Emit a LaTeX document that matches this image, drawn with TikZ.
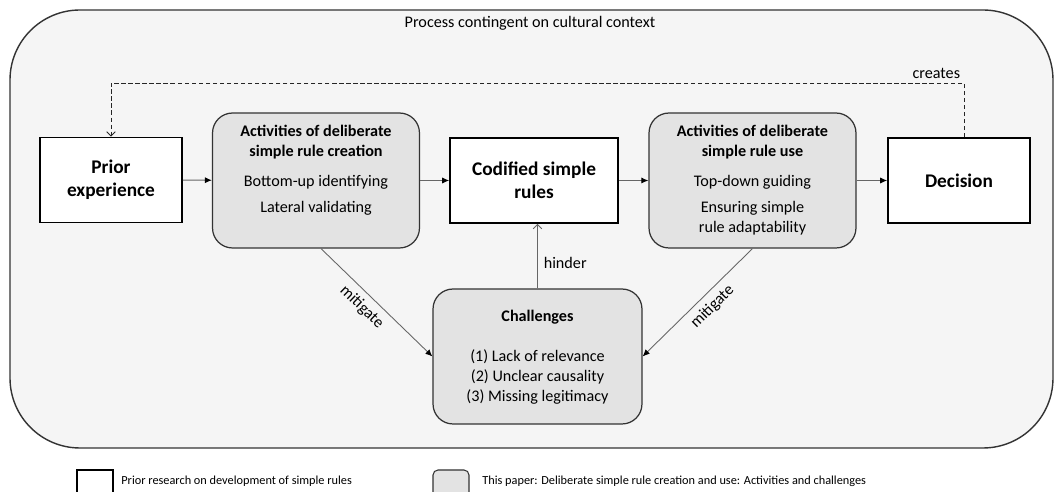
\documentclass[tikz,border=0pt]{standalone}
\usepackage{fontspec}
\setmainfont{Carlito}
\usetikzlibrary{arrows.meta,positioning}
\begin{document}
\begin{tikzpicture}[x=0.02cm,y=-0.02cm,
  priorbox/.style={draw,line width=0.9pt,fill=white,align=center,
    font=\fontsize{11}{13}\selectfont\bfseries,minimum width=2.84cm,minimum height=1.7cm},
  paperbox/.style={draw=black!80,line width=0.7pt,fill=black!11,rounded corners=0.4cm,
    minimum width=4.14cm,minimum height=2.7cm},
  boxtext/.style={align=center,inner sep=0pt,font=\fontsize{9.2}{11.4}\selectfont},
  flow/.style={draw=black!60,line width=0.6pt,-{Latex[length=4pt,width=3.5pt,color=black]}},
  hint/.style={draw=black!60,line width=0.5pt,-{Straight Barb[length=2.5pt,width=5pt]}},
  lbl/.style={font=\fontsize{9.2}{11}\selectfont}]
\useasboundingbox (0,0) rectangle (1059,492);
\clip (0,0) rectangle (1059,492);

% context
\draw[fill=black!4,draw=black!80,line width=0.8pt,rounded corners=1.4cm] (10,10) rectangle (1053,448);
\node[lbl] (context) at (530,23) {Process contingent on cultural context};

% main row
\node[priorbox] (prior) at (111,180) {Prior\\experience};
\node[paperbox] (create) at (316,180.5) {};
\node[boxtext,anchor=base] (createtext) at (316,213) {\textbf{Activities of deliberate}\\\textbf{simple rule creation}\\[0.2cm]Bottom-up identifying\\[0.12cm]Lateral validating};
\node[priorbox,minimum width=3.36cm] (codified) at (534,180.5) {Codified simple\\rules};
\node[paperbox] (use) at (752.5,180.5) {};
\node[boxtext,anchor=base] (usetext) at (752.5,233) {\textbf{Activities of deliberate}\\\textbf{simple rule use}\\[0.2cm]Top-down guiding\\[0.12cm]Ensuring simple\\rule adaptability};
\node[priorbox] (decision) at (959,180.5) {Decision};

\node[paperbox,minimum width=4.18cm] (challenges) at (537.5,356.5) {};
\node[boxtext,anchor=base] (challengestext) at (537.5,402) {\textbf{Challenges}\\[0.4cm](1) Lack of relevance\\(2) Unclear causality\\(3) Missing legitimacy};

\draw[flow] (prior) -- (create);
\draw[flow] (create) -- (codified);
\draw[flow] (codified) -- (use);
\draw[flow] (use) -- (decision);

\coordinate (loop) at (0,83);
\draw[hint,draw=black!85,dash pattern=on 2.5pt off 1.5pt] ([xshift=0.1cm]decision.north) -- ([xshift=0.1cm]decision.north |- loop)
  node[lbl,above left,inner sep=2pt] (creates) {creates} -- (prior.north |- loop) -- (prior.north);

\draw[hint] (challenges.north) -- (challenges.north |- codified.south) node[lbl,pos=0.4,right] (hinder) {hinder};
\draw[flow,line width=0.5pt] ([xshift=0.1cm]create.south) -- (challenges.west) node[lbl,pos=0.45,sloped,below,inner sep=3.5pt] (mitleft) {mitigate};
\draw[flow,line width=0.5pt] (use.south) -- (challenges.east) node[lbl,pos=0.45,sloped,below,inner sep=3.5pt] (mitright) {mitigate};

% legend
\draw[line width=1pt] (77,470) rectangle (113,500);
\node[anchor=west,inner sep=0pt,font=\fontsize{7}{8}\selectfont] (legprior) at (121,481) {Prior research on development of simple rules};
\draw[draw=black!80,fill=black!11,line width=0.6pt,rounded corners=0.1cm] (433,470) rectangle (469,500);
\node[anchor=west,inner sep=0pt,font=\fontsize{7}{8}\selectfont] (legpaper) at (482,481) {This paper: Deliberate simple rule creation and use: Activities and challenges};
\end{tikzpicture}
\end{document}
